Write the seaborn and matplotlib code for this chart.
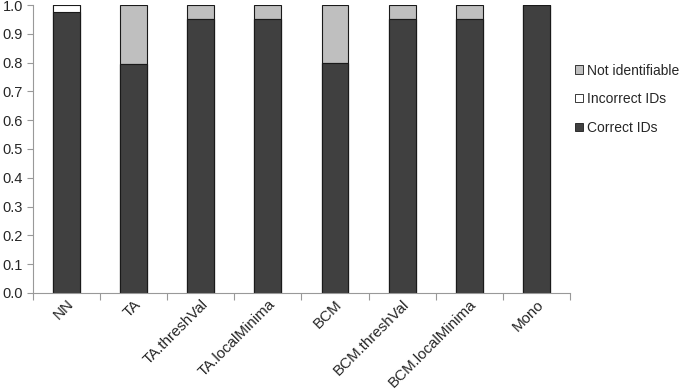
import numpy as np
import pandas as pd
import matplotlib
matplotlib.use("Agg")
import matplotlib.pyplot as plt
import seaborn as sns
from matplotlib.patches import Patch
from matplotlib.ticker import FixedLocator

methods = ["NN", "TA", "TA.threshVal", "TA.localMinima", "BCM",
           "BCM.threshVal", "BCM.localMinima", "Mono"]
correct_ids = [0.975, 0.795, 0.953, 0.950, 0.797, 0.953, 0.950, 1.000]
incorrect_ids = [0.025, 0.000, 0.000, 0.000, 0.000, 0.000, 0.000, 0.000]
not_identifiable = [0.000, 0.205, 0.047, 0.050, 0.203, 0.047, 0.050, 0.000]

df = pd.DataFrame({
    "method": methods,
    "correct": correct_ids,
    "incorrect": incorrect_ids,
    "notid": not_identifiable,
})
df["lvl2"] = df["correct"] + df["incorrect"]
df["lvl3"] = df["lvl2"] + df["notid"]

sns.set_style("white")
plt.rcParams["font.family"] = ["Liberation Sans", "DejaVu Sans"]

dark = "#404040"
light = "#bfbfbf"
edge = "#1a1a1a"

fig = plt.figure(figsize=(6.85, 3.92), dpi=100)
ax = fig.add_axes([0.048, 0.2526, 0.784, 0.7346])

# stacked bars drawn as layered cumulative heights
sns.barplot(data=df, x="method", y="lvl3", color=light, saturation=1, width=0.4,
            edgecolor=edge, linewidth=0.8, ax=ax)
sns.barplot(data=df, x="method", y="lvl2", color="white", saturation=1, width=0.4,
            edgecolor=edge, linewidth=0.8, ax=ax)
sns.barplot(data=df, x="method", y="correct", color=dark, saturation=1, width=0.4,
            edgecolor=edge, linewidth=0.8, ax=ax)

ax.set_xlim(-0.5, len(methods) - 0.5)
ax.set_ylim(0, 1.0)
ax.set_yticks(np.arange(0, 1.01, 0.1))
ax.set_yticklabels([f"{v:.1f}" for v in np.arange(0, 1.01, 0.1)], fontsize=10.5)
ax.set_xticks(range(len(methods)))
ax.set_xticklabels(methods, rotation=45, ha="right", rotation_mode="anchor", fontsize=10.9)
ax.xaxis.set_minor_locator(FixedLocator(np.arange(-0.5, len(methods), 1.0)))
ax.tick_params(axis="x", which="major", length=0, pad=3)
ax.tick_params(axis="x", which="minor", length=5, width=0.8, color="#999999", bottom=True)
ax.tick_params(axis="y", length=4, width=0.8, color="#999999", left=True, pad=3)
ax.set_xlabel("")
ax.set_ylabel("")

for s in ["top", "right"]:
    ax.spines[s].set_visible(False)
for s in ["left", "bottom"]:
    ax.spines[s].set_color("#999999")
    ax.spines[s].set_linewidth(0.8)

handles = [
    Patch(facecolor=light, edgecolor=edge, linewidth=0.6, label="Not identifiable"),
    Patch(facecolor="white", edgecolor=edge, linewidth=0.6, label="Incorrect IDs"),
    Patch(facecolor=dark, edgecolor=edge, linewidth=0.6, label="Correct IDs"),
]
fig.legend(handles=handles, loc="center left", bbox_to_anchor=(0.832, 0.747),
           frameon=False, fontsize=10.0, handlelength=0.55, handleheight=0.55,
           handletextpad=0.25, labelspacing=1.05, borderaxespad=0)

fig.savefig("out.png", dpi=100)
